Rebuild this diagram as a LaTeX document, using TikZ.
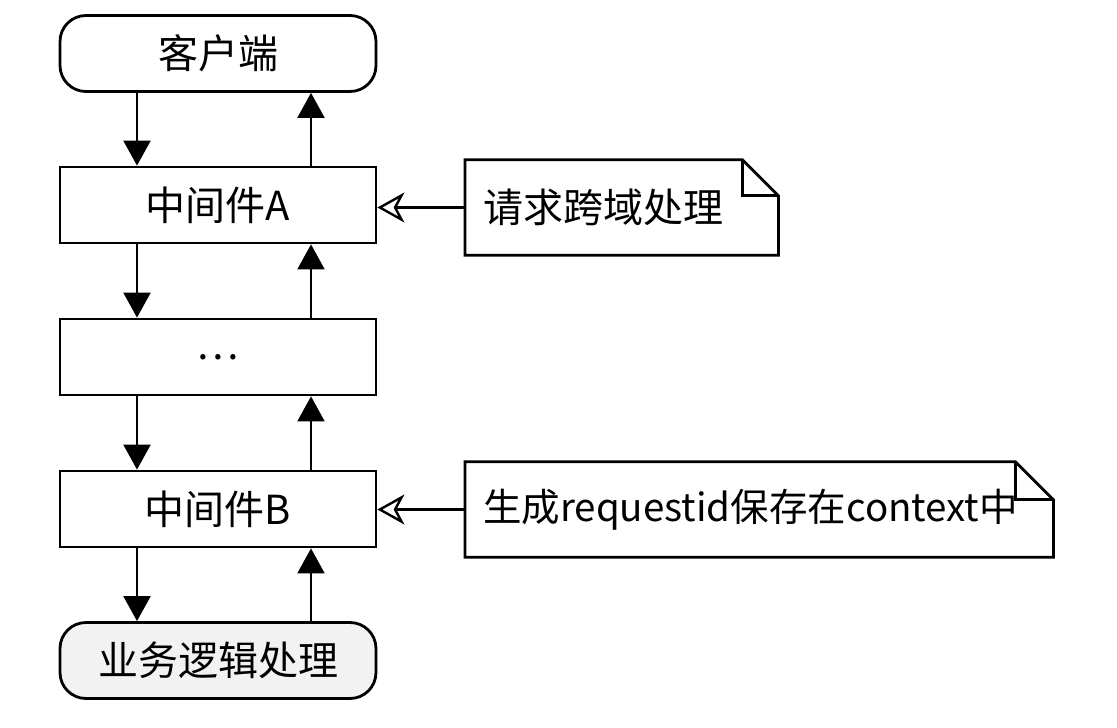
\documentclass[tikz,border=0pt]{standalone}
\usepackage{fontspec}
\setmainfont{Noto Sans CJK SC}
\usetikzlibrary{arrows.meta,calc}
\begin{document}
\begin{tikzpicture}[x=1pt,y=-1pt,
  txt/.style={font=\fontsize{40}{48}\selectfont},
  box/.style={draw, line width=2.8pt, minimum width=316pt, minimum height=76pt, inner sep=0pt, txt},
  term/.style={box, rounded corners=26pt},
  note/.style={anchor=west, inner xsep=18pt, inner ysep=0pt, minimum height=95pt, align=left, txt},
  notebody/.style={line width=2.8pt, line join=miter},
  flow/.style={-{Triangle[length=25pt,width=27pt]}, line width=2.2pt},
  link/.style={-{Stealth[open,length=27pt,width=30pt,inset=8pt]}, line width=2.4pt}]
\useasboundingbox (0,0) rectangle (1117,728);

\node[term] (client) at (218,53.5) {客户端};
\node[box] (mwA) at (218,205) {中间件A};
\node[box] (dots) at (218,357) {…};
\node[box] (mwB) at (218,509) {中间件B};
\node[term, fill=black!5] (biz) at (218,660.5) {业务逻辑处理};

\node[note, text width=277pt] (noteA) at (465,207.5) {请求跨域处理};
\node[note, text width=552pt, font=\fontsize{38.5}{46}\selectfont] (noteB) at (465,509.5) {生成requestid保存在context中};

\draw[notebody] (noteA.north west) -- ($(noteA.north east)+(-36,0)$) -- ($(noteA.north east)+(0,36)$) -- (noteA.south east) -- (noteA.south west) -- cycle;
\draw[notebody] ($(noteA.north east)+(-36,0)$) -- ($(noteA.north east)+(-36,36)$) -- ($(noteA.north east)+(0,36)$);
\draw[notebody] (noteB.north west) -- ($(noteB.north east)+(-38,0)$) -- ($(noteB.north east)+(0,38)$) -- (noteB.south east) -- (noteB.south west) -- cycle;
\draw[notebody] ($(noteB.north east)+(-38,0)$) -- ($(noteB.north east)+(-38,38)$) -- ($(noteB.north east)+(0,38)$);

\foreach \a/\b in {client/mwA, mwA/dots, dots/mwB, mwB/biz}{
  \draw[flow] ($(\a.south)+(-81,0)$) -- ($(\b.north)+(-81,0)$);
  \draw[flow] ($(\b.north)+(93,0)$) -- ($(\a.south)+(93,0)$);
}

\draw[link] (noteA.west) -- (noteA.west -| mwA.east);
\draw[link] (noteB.west) -- (noteB.west -| mwB.east);
\end{tikzpicture}
\end{document}
